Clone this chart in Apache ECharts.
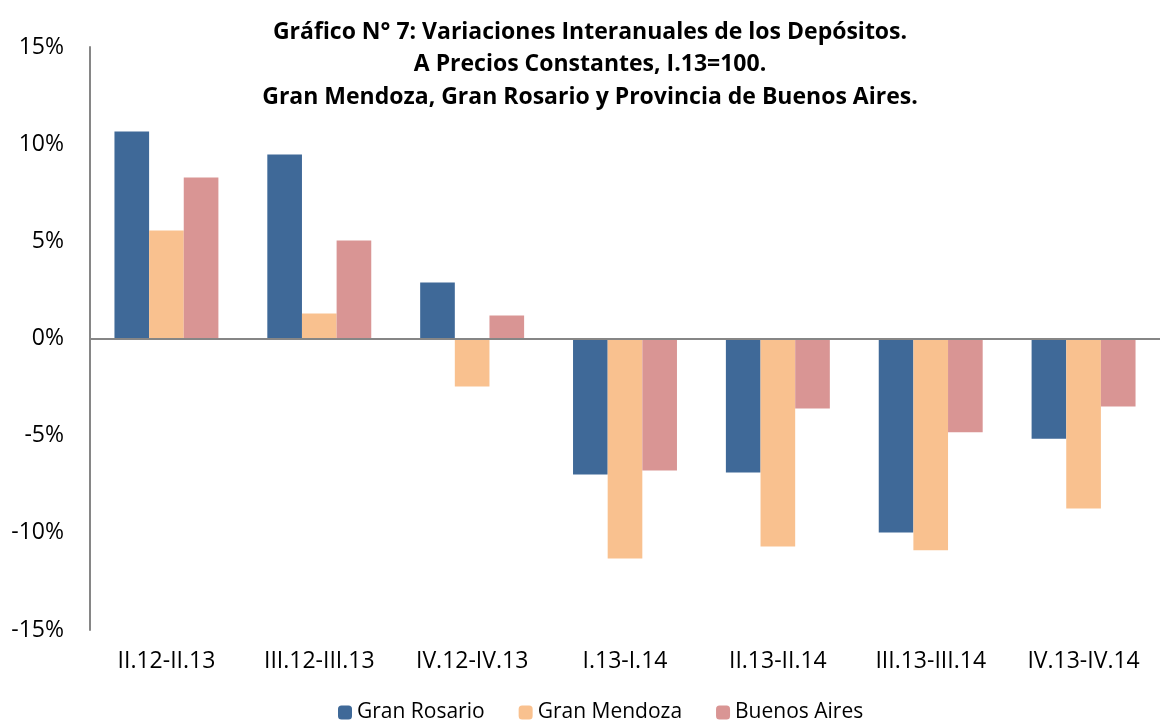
<!DOCTYPE html>
<html>
<head>
<meta charset="utf-8">
<script src="https://cdn.jsdelivr.net/npm/echarts@6/dist/echarts.min.js"></script>
<style>
  html, body { margin: 0; padding: 0; background: #fff; }
  #chart { width: 1161px; height: 720px; }
</style>
</head>
<body>
<div id="chart"></div>
<script>
"use strict";

const CATEGORIES   = ["II.12-II.13", "III.12-III.13", "IV.12-IV.13", "I.13-I.14", "II.13-II.14", "III.13-III.14", "IV.13-IV.14"];
const GRAN_ROSARIO = [10.65, 9.47, 2.88, -7.0, -6.9, -9.98, -5.16];
const GRAN_MENDOZA = [5.56, 1.29, -2.47, -11.32, -10.7, -10.9, -8.75];
const BUENOS_AIRES = [8.29, 5.04, 1.18, -6.79, -3.6, -4.83, -3.5];
const Y_TICKS      = [-15, -10, -5, 0, 5, 10, 15];

const FONT = "'Open Sans', 'Liberation Sans', sans-serif";

const chart = echarts.init(document.getElementById("chart"));

chart.setOption({
  backgroundColor: "#fff",
  animation: false,
  textStyle: { fontFamily: FONT },
  title: {
    text: "Gráfico N° 7: Variaciones Interanuales de los Depósitos.\nA Precios Constantes, I.13=100.\nGran Mendoza, Gran Rosario y Provincia de Buenos Aires.",
    left: 585, top: 11, textAlign: "center",
    textStyle: { fontSize: 23, fontWeight: "bold", color: "#000", lineHeight: 32.5, fontFamily: FONT }
  },
  legend: {
    top: 697, left: 333,
    itemWidth: 14, itemHeight: 14, itemGap: 34,
    textStyle: { fontSize: 21, color: "#000", fontFamily: FONT },
    data: ["Gran Rosario", "Gran Mendoza", "Buenos Aires"]
  },
  grid: { left: 90, right: 1, top: 47, bottom: 90 },
  xAxis: {
    type: "category",
    data: CATEGORIES,
    axisLine: { show: false, onZero: false },
    axisTick: { show: false },
    axisLabel: { fontSize: 23, color: "#000", margin: 20, fontFamily: FONT }
  },
  yAxis: {
    type: "value",
    min: Y_TICKS[0], max: Y_TICKS[Y_TICKS.length - 1], interval: 5,
    axisLine: { show: true, lineStyle: { color: "#868686", width: 2 } },
    axisTick: { show: false },
    splitLine: { show: false },
    axisLabel: { fontSize: 23, color: "#000", margin: 26, formatter: v => v + "%", fontFamily: FONT }
  },
  series: [
    {
      name: "Gran Rosario", type: "bar", data: GRAN_ROSARIO,
      barGap: "0%", barCategoryGap: "32%",
      itemStyle: { color: "#3F6998" },
      markLine: {
        silent: true, symbol: "none", label: { show: false },
        lineStyle: { color: "#868686", width: 2, type: "solid" },
        data: [{ yAxis: 0 }]
      }
    },
    { name: "Gran Mendoza", type: "bar", data: GRAN_MENDOZA, itemStyle: { color: "#F9C18F" } },
    { name: "Buenos Aires", type: "bar", data: BUENOS_AIRES, itemStyle: { color: "#D99594" } }
  ]
});
</script>
</body>
</html>
